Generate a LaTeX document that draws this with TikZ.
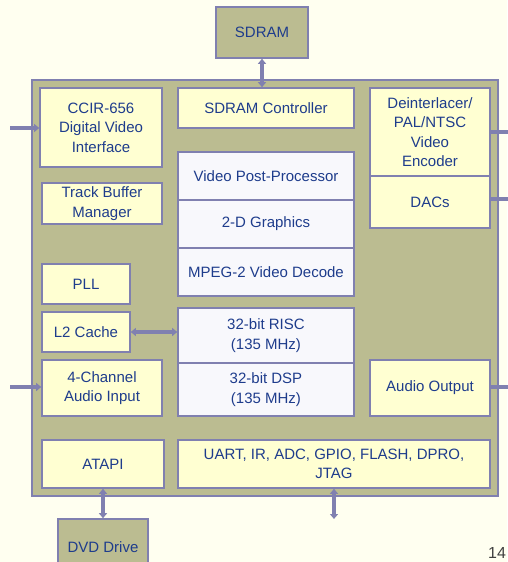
\documentclass[tikz,border=0pt]{standalone}
\usepackage{fontspec}
\setmainfont{Liberation Sans}
\usepackage{tikz}
\usetikzlibrary{arrows.meta}
\definecolor{pagebg}{RGB}{255,255,240}
\definecolor{olive}{RGB}{187,188,145}
\definecolor{edge}{RGB}{128,128,176}
\definecolor{pale}{RGB}{255,255,210}
\definecolor{whitish}{RGB}{248,248,252}
\definecolor{ink}{RGB}{30,60,140}
\tikzstyle{blk} = [draw=edge, line width=1.6pt, fill=pale, text=ink, align=center, inner sep=0pt, font=\fontsize{15}{19.5}\selectfont]
\tikzstyle{core} = [blk, fill=whitish, minimum width=176pt]
\tikzstyle{ext} = [blk, fill=olive]
\tikzstyle{bus} = [draw=edge, line width=3.6pt, {Triangle[length=5pt,width=8pt]}-{Triangle[length=5pt,width=8pt]}]
\tikzstyle{pin} = [draw=edge, line width=3.6pt, -{Triangle[length=5pt,width=8pt]}]

\begin{document}
\begin{tikzpicture}[x=1pt, y=-1pt]
		\useasboundingbox[fill=pagebg] (0,0) rectangle (507,562);
		\node[ext, minimum width=466pt, minimum height=416pt, line width=2pt] (chip) at (265,288) {};
		\node[ext, minimum width=92pt, minimum height=51pt] (sdram) at (262,32.5) {SDRAM};
		\node[ext, minimum width=90pt, minimum height=56pt] (dvd) at (103,547) {DVD Drive};

		\node[blk, minimum width=122pt, minimum height=79pt] (ccir) at (101,127.5) {CCIR-656\\Digital Video\\Interface};
		\node[blk, minimum width=176pt, minimum height=40pt] (ctrl) at (266,108) {SDRAM Controller};
		\node[blk, minimum width=120pt, minimum height=88pt] (deint) at (430,132) {Deinterlacer/\\PAL/NTSC\\Video\\Encoder};
		\node[blk, minimum width=120pt, minimum height=52pt] (dacs) at (430,202) {DACs};
		\node[blk, minimum width=120pt, minimum height=41pt] (track) at (102,203.5) {Track Buffer\\Manager};
		\node[core, minimum height=48pt] (vpp) at (266,176) {Video Post-Processor};
		\node[core, minimum height=48pt] (gfx) at (266,224) {2-D Graphics};
		\node[core, minimum height=48pt] (mpeg) at (266,272) {MPEG-2 Video Decode};
		\node[blk, minimum width=88pt, minimum height=40pt] (pll) at (86,284) {PLL};
		\node[blk, minimum width=88pt, minimum height=40pt] (l2) at (86,332) {L2 Cache};
		\node[core, minimum height=55pt] (risc) at (266,335.5) {32-bit RISC\\(135 MHz)};
		\node[core, minimum height=53pt] (dsp) at (266,389.5) {32-bit DSP\\(135 MHz)};
		\node[blk, minimum width=120pt, minimum height=56pt] (ain) at (102,388) {4-Channel\\Audio Input};
		\node[blk, minimum width=120pt, minimum height=56pt] (aout) at (430,388) {Audio Output};
		\node[blk, minimum width=122pt, minimum height=48pt] (atapi) at (103,464) {ATAPI};
		\node[blk, minimum width=312pt, minimum height=48pt] (uart) at (334,464) {UART, IR, ADC, GPIO, FLASH, DPRO,\\JTAG};

		\coordinate (vidin) at (10,128);
		\coordinate (audin) at (10,387);
		\coordinate (vidout) at (516,132);
		\coordinate (dacout) at (516,199);
		\coordinate (audout) at (516,387);
		\coordinate (io) at (334,519);

		\draw[bus] (sdram.south) -- (sdram.south |- ctrl.north);
		\draw[bus] (l2.east) -- (l2.east -| risc.west);
		\draw[bus] (atapi.south) -- (dvd.north);
		\draw[bus] (uart.south) -- (io);
		\draw[pin] (vidin) -- (vidin -| ccir.west);
		\draw[pin] (audin) -- (audin -| ain.west);
		\draw[pin] (vidout -| deint.east) -- (vidout);
		\draw[pin] (dacout -| dacs.east) -- (dacout);
		\draw[pin] (audout -| aout.east) -- (audout);

		\node[text=black!75, font=\fontsize{16}{18}\selectfont] (pgno) at (497,553) {14};
\end{tikzpicture}
\end{document}
